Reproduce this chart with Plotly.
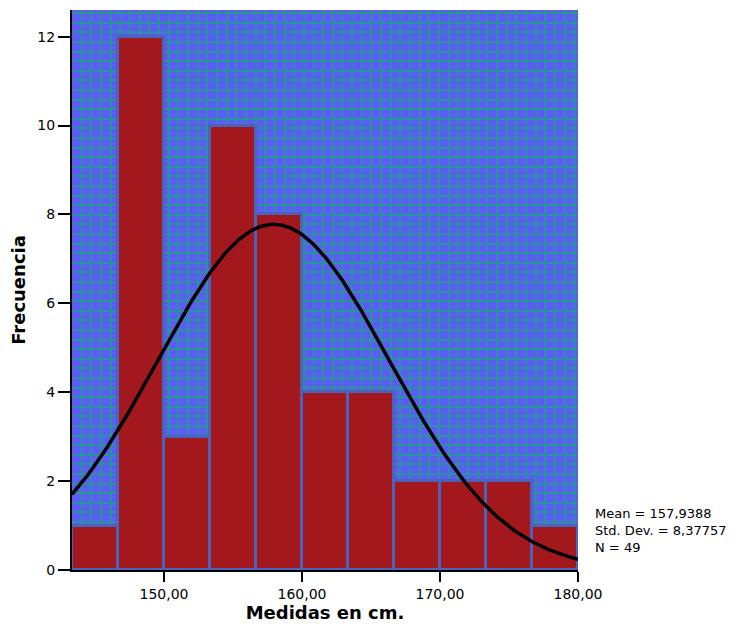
import numpy as np
import plotly.graph_objects as go

# Data
bin_start = 143.3333
bin_width = 10 / 3
counts = [1, 12, 3, 10, 8, 4, 4, 2, 2, 2, 1]
mean_val = 157.9388
std_val = 8.37757
n_val = 49
x_tickvals = [150, 160, 170, 180]
x_ticktext = ["150,00", "160,00", "170,00", "180,00"]
y_tickvals = [0, 2, 4, 6, 8, 10, 12]

centers = [bin_start + bin_width * (i + 0.5) for i in range(len(counts))]

xc = np.linspace(bin_start, 180, 300)
yc = n_val * bin_width * np.exp(-0.5 * ((xc - mean_val) / std_val) ** 2) / (std_val * np.sqrt(2 * np.pi))

fig = go.Figure()
fig.add_trace(go.Bar(
    x=centers, y=counts, width=bin_width,
    marker=dict(color="#a3181c", line=dict(color="#4a62bc", width=3)),
    hoverinfo="x+y",
))
fig.add_trace(go.Scatter(
    x=xc, y=yc, mode="lines",
    line=dict(color="black", width=3.5),
    hoverinfo="skip",
))

grid_color = "#2a929c"
# page body has an 8px default margin, so margins are offset by 8px
fig.update_layout(
    width=742, height=626,
    margin=dict(l=64, r=172, t=2, b=64, autoexpand=False),
    paper_bgcolor="white",
    plot_bgcolor="#5b5bf6",
    showlegend=False,
    bargap=0,
    font=dict(family="DejaVu Sans, Arial, sans-serif", color="black", size=14),
    xaxis=dict(
        range=[bin_start, 180],
        tickvals=x_tickvals, ticktext=x_ticktext,
        ticks="outside", ticklen=10, tickwidth=2, tickcolor="black",
        showline=True, linecolor="black", linewidth=2,
        showgrid=False,
        minor=dict(dtick=0.7, tick0=bin_start, showgrid=True, gridcolor=grid_color, gridwidth=2, ticks=""),
        zeroline=False, automargin=False,
        layer="below traces",
        title=dict(text="<b>Medidas en cm.</b>", font=dict(size=18), standoff=6),
        tickfont=dict(size=14),
    ),
    yaxis=dict(
        range=[0, 12.6],
        tickvals=y_tickvals,
        ticks="outside", ticklen=12, tickwidth=2, tickcolor="black",
        showline=True, linecolor="black", linewidth=2,
        showgrid=False,
        minor=dict(dtick=0.216, tick0=0, showgrid=True, gridcolor=grid_color, gridwidth=2, ticks=""),
        zeroline=False, automargin=False,
        layer="below traces",
        title=dict(text="<b>Frecuencia</b>", font=dict(size=18), standoff=8),
        tickfont=dict(size=14),
    ),
    annotations=[dict(
        xref="paper", yref="paper", x=1.03, y=0.071,
        xanchor="left", yanchor="middle", align="left", showarrow=False,
        text=f"Mean = 157,9388<br>Std. Dev. = 8,37757<br>N = {n_val}",
        font=dict(size=13),
    )],
)

fig.write_html("out.html")
